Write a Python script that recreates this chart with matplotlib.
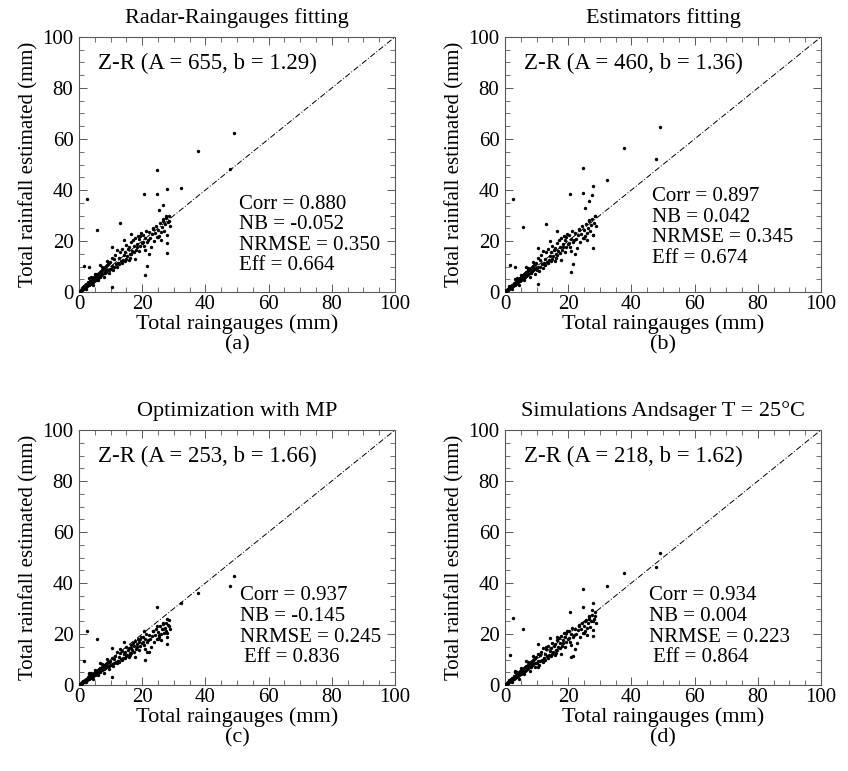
import matplotlib
matplotlib.use("Agg")
from matplotlib import pyplot as plt
from matplotlib.ticker import MultipleLocator

plt.rcParams['font.family'] = ['Liberation Serif', 'DejaVu Serif']
plt.rcParams['font.size'] = 15

# valori pluviometri (comuni ai quattro pannelli)
x_core = [0.2, 0.4, 0.5, 0.6, 0.8, 0.9, 1.0, 1.1, 1.3, 1.4,
          1.5, 1.7, 1.8, 1.9, 2.0, 2.2, 2.3, 2.4, 2.6, 2.7,
          2.8, 3.0, 3.1, 3.2, 3.4, 3.5, 3.6, 3.8, 3.9, 4.0,
          4.2, 4.3, 4.5, 4.6, 4.8, 4.9, 5.0, 5.2, 5.3, 5.5,
          5.6, 5.8, 5.9, 6.1, 6.2, 6.4, 6.5, 6.7, 6.8, 7.0,
          7.1, 7.3, 7.4, 7.6, 7.8, 7.9, 8.1, 8.2, 8.4, 8.6,
          8.7, 8.9, 9.0, 9.2, 9.4, 9.5, 9.7, 9.9, 1.2, 2.1,
          3.3, 4.4, 5.1, 6.0, 7.2, 8.0, 8.8, 9.6, 3.7, 6.6]
x_mid = [10.1, 10.3, 10.5, 10.8, 11.0, 11.2, 11.4, 11.7, 11.9, 12.1,
         12.3, 12.6, 12.8, 13.0, 13.2, 13.5, 13.7, 13.9, 14.1, 14.4,
         14.6, 14.8, 15.0, 15.3, 15.5, 15.7, 15.9, 16.2, 16.4, 16.6,
         16.8, 17.1, 17.3, 17.5, 17.8, 18.0, 18.2, 18.5, 18.7, 18.9,
         19.1, 19.4, 19.6, 19.8, 10.6, 12.4, 14.2, 16.0, 17.6, 19.3]
x_high = [20.1, 20.4, 20.7, 21.0, 21.3, 21.6, 21.9, 22.2, 22.5, 22.8,
          23.1, 23.4, 23.7, 24.0, 24.3, 24.6, 24.9, 25.2, 25.5, 25.8,
          26.1, 26.4, 26.7, 27.0, 27.3, 27.6, 27.9, 28.2, 28.5, 28.8,
          20.9, 22.0, 23.5, 25.0, 26.5]
x_out = [48.9, 37.8, 47.9, 24.6, 2.5, 20.5, 24.7, 27.8, 32.3, 26.5, 25.2, 27.6,
         13.0, 5.8, 27.8, 27.8, 20.8, 1.5, 3.2, 21.5, 10.4, 16.5, 28.5]
raingauges = x_core + x_mid + x_high + x_out

# (a) Radar-Raingauges fitting
ya = [0.5, 0.3, 0.9, 0.4, 1.2, 0.7, 1.5, 0.9, 1.8, 1.2,
      1.6, 2.3, 1.5, 2.6, 1.8, 3.0, 2.1, 2.9, 2.4, 3.5,
      2.6, 3.8, 2.8, 3.6, 3.1, 4.4, 3.3, 4.5, 3.5, 4.8,
      3.8, 5.2, 4.0, 5.6, 4.4, 5.8, 4.6, 6.3, 4.9, 6.5,
      5.2, 7.0, 5.5, 7.2, 5.8, 7.6, 6.0, 8.0, 6.4, 8.3,
      6.6, 8.8, 7.0, 9.0, 7.3, 9.4, 7.5, 9.8, 8.0, 10.2,
      8.2, 10.5, 8.5, 11.0, 8.8, 11.3, 9.2, 11.8, 2.0, 1.2,
      5.5, 2.8, 7.0, 4.8, 10.0, 6.0, 12.0, 7.5, 6.0, 10.5,
      9.0, 13.5, 10.2, 8.5, 12.8, 10.0, 14.6, 11.0, 9.8, 16.5,
      11.4, 13.2, 10.8, 15.8, 12.0, 11.5, 17.0, 12.6, 14.5, 12.2,
      15.8, 13.0, 18.5, 14.2, 16.8, 12.5, 17.5, 15.0, 19.5, 14.8,
      16.2, 20.5, 15.5, 18.0, 21.2, 16.6, 19.0, 17.8, 22.0, 16.0,
      20.8, 18.0, 23.0, 19.2, 17.5, 11.2, 20.2, 13.5, 12.8, 21.8,
      19.5, 22.5, 18.0, 21.0, 24.0, 19.8, 20.5, 23.5, 21.0, 17.5,
      22.8, 25.0, 20.0, 23.0, 26.0, 21.5, 24.5, 22.0, 27.0, 23.5,
      20.5, 25.5, 28.0, 24.0, 26.5, 29.0, 22.5, 27.5, 30.0, 26.0,
      16.5, 15.0, 24.8, 21.5, 28.5,
      62.4, 55.3, 48.4, 48.0, 36.3, 38.6, 38.3, 40.5, 40.8, 34.2, 32.0, 29.8,
      27.0, 24.3, 19.2, 15.4, 6.5, 10.2, 9.8, 10.2, 2.0, 22.7, 28.0]

# (b) Estimators fitting
yb = [0.4, 0.6, 0.7, 0.5, 1.1, 0.8, 1.3, 1.0, 1.6, 1.3,
      1.5, 2.1, 1.6, 2.4, 1.9, 2.8, 2.2, 2.7, 2.5, 3.3,
      2.7, 3.6, 2.9, 3.4, 3.2, 4.1, 3.4, 4.3, 3.6, 4.6,
      3.9, 4.9, 4.2, 5.3, 4.5, 5.6, 4.7, 6.0, 5.0, 6.3,
      5.3, 6.7, 5.6, 6.9, 5.9, 7.3, 6.1, 7.7, 6.5, 8.0,
      6.7, 8.5, 7.1, 8.7, 7.4, 9.1, 7.6, 9.5, 8.1, 9.9,
      8.3, 10.2, 8.6, 10.7, 8.9, 11.0, 9.3, 11.5, 2.4, 1.0,
      5.2, 2.6, 6.6, 4.6, 9.6, 5.8, 11.6, 7.2, 5.6, 10.0,
      8.8, 13.2, 10.0, 8.2, 12.5, 9.8, 14.4, 10.8, 9.6, 16.2,
      11.2, 13.0, 10.5, 15.5, 11.8, 11.2, 16.8, 12.4, 14.2, 12.0,
      15.5, 12.8, 18.2, 14.0, 16.5, 12.2, 17.2, 14.8, 19.2, 14.5,
      16.0, 20.2, 15.2, 17.8, 21.0, 16.4, 18.8, 17.5, 21.8, 15.8,
      20.5, 17.8, 22.8, 19.0, 17.2, 11.0, 20.0, 13.2, 12.5, 21.5,
      19.2, 22.2, 17.8, 20.8, 23.8, 19.5, 20.2, 23.2, 20.8, 17.2,
      22.5, 24.8, 19.8, 22.8, 25.8, 21.2, 24.2, 21.8, 26.8, 23.2,
      20.2, 25.2, 27.8, 23.8, 26.2, 28.8, 22.2, 27.2, 29.8, 25.8,
      16.2, 14.8, 24.5, 21.2, 28.2,
      64.7, 56.6, 52.0, 48.7, 36.3, 38.4, 38.9, 41.4, 43.8, 35.6, 33.0, 37.9,
      26.8, 25.5, 22.2, 17.4, 7.8, 10.5, 9.9, 11.0, 3.0, 24.1, 30.0]

# (c) Optimization with MP
yc = [0.3, 0.2, 0.6, 0.4, 0.9, 0.6, 1.1, 0.8, 1.4, 1.0,
      1.2, 1.7, 1.3, 2.0, 1.5, 2.3, 1.8, 2.2, 2.0, 2.7,
      2.2, 3.0, 2.4, 2.8, 2.7, 3.4, 2.8, 3.6, 3.0, 3.8,
      3.3, 4.1, 3.5, 4.4, 3.8, 4.6, 4.0, 5.0, 4.2, 5.2,
      4.5, 5.6, 4.7, 5.8, 5.0, 6.1, 5.2, 6.5, 5.5, 6.7,
      5.7, 7.1, 6.0, 7.3, 6.3, 7.6, 6.5, 8.0, 6.9, 8.3,
      7.1, 8.6, 7.3, 9.0, 7.6, 9.2, 7.9, 9.6, 1.6, 1.0,
      4.6, 2.2, 6.0, 3.8, 8.4, 4.9, 10.2, 6.1, 4.6, 8.6,
      7.8, 10.5, 8.2, 7.5, 10.2, 8.5, 11.5, 9.0, 8.6, 12.8,
      9.6, 11.0, 9.2, 12.5, 10.2, 9.8, 13.5, 10.6, 12.2, 10.4,
      13.0, 11.2, 14.8, 11.8, 13.6, 10.8, 14.5, 12.6, 15.8, 12.4,
      13.8, 16.5, 13.0, 15.2, 17.2, 14.2, 16.0, 15.0, 18.0, 13.8,
      17.0, 15.4, 18.8, 16.4, 14.6, 9.6, 16.8, 11.6, 11.0, 18.2,
      16.8, 19.0, 15.5, 18.0, 20.0, 16.8, 17.5, 19.8, 18.0, 15.0,
      19.2, 21.0, 17.0, 19.5, 22.0, 18.2, 20.8, 18.8, 23.0, 20.0,
      17.5, 21.8, 24.0, 20.5, 22.5, 24.5, 19.0, 23.5, 25.5, 22.0,
      14.0, 12.8, 21.0, 18.2, 24.2,
      42.9, 36.0, 38.7, 30.7, 21.3, 21.0, 23.0, 25.9, 32.0, 22.0, 19.5, 21.3,
      14.0, 18.0, 16.1, 20.5, 9.9, 9.5, 4.5, 13.0, 3.0, 14.5, 23.0]

# (d) Simulations Andsager T = 25°C
yd = [0.4, 0.3, 0.8, 0.5, 1.0, 0.7, 1.3, 0.9, 1.6, 1.2,
      1.4, 2.0, 1.5, 2.3, 1.7, 2.6, 2.0, 2.5, 2.3, 3.1,
      2.5, 3.4, 2.7, 3.2, 3.0, 3.9, 3.1, 4.1, 3.4, 4.3,
      3.7, 4.6, 3.9, 5.0, 4.2, 5.3, 4.4, 5.7, 4.7, 5.9,
      5.0, 6.4, 5.2, 6.6, 5.6, 6.9, 5.8, 7.3, 6.1, 7.6,
      6.4, 8.0, 6.7, 8.2, 7.0, 8.6, 7.2, 9.0, 7.7, 9.4,
      7.9, 9.7, 8.2, 10.1, 8.5, 10.4, 8.8, 10.9, 2.0, 1.1,
      5.0, 2.5, 6.5, 4.4, 9.2, 5.5, 11.2, 6.9, 5.2, 9.6,
      8.5, 12.0, 9.4, 8.0, 11.6, 9.3, 13.0, 10.0, 9.2, 14.6,
      10.5, 12.2, 9.9, 14.0, 11.2, 10.6, 15.2, 11.6, 13.4, 11.4,
      14.4, 12.2, 16.6, 13.0, 15.2, 11.8, 16.0, 13.8, 17.6, 13.6,
      15.0, 18.6, 14.4, 16.6, 19.4, 15.4, 17.6, 16.4, 20.2, 15.0,
      19.0, 16.8, 21.0, 18.0, 16.2, 10.4, 18.6, 12.6, 12.0, 20.2,
      18.5, 21.0, 17.0, 20.0, 22.5, 18.8, 19.5, 22.0, 20.0, 16.5,
      21.5, 23.5, 19.0, 21.8, 24.5, 20.5, 23.0, 21.0, 25.5, 22.2,
      19.5, 24.2, 26.5, 22.8, 25.0, 27.5, 21.5, 26.0, 28.5, 24.5,
      15.5, 14.2, 23.2, 20.2, 27.0,
      51.8, 43.9, 46.4, 37.5, 26.3, 28.5, 30.5, 32.0, 38.9, 26.0, 25.0, 29.5,
      15.0, 22.0, 19.1, 25.0, 11.1, 11.8, 5.5, 11.5, 6.9, 19.0, 27.0]

titles = ['Radar-Raingauges fitting', 'Estimators fitting',
          'Optimization with MP', 'Simulations Andsager T = 25°C']
zr_text = ['Z-R (A = 655, b = 1.29)', 'Z-R (A = 460, b = 1.36)',
           'Z-R (A = 253, b = 1.66)', 'Z-R (A = 218, b = 1.62)']
stats = [('0.880', '-0.052', '0.350', '0.664'),
         ('0.897', '0.042', '0.345', '0.674'),
         ('0.937', '-0.145', '0.245', '0.836'),
         ('0.934', '0.004', '0.223', '0.864')]
panel_labels = ['(a)', '(b)', '(c)', '(d)']
estimates = [ya, yb, yc, yd]

W, H = 848, 771
fig = plt.figure(figsize=(W / 100, H / 100), dpi=100)

# posizione assi in pixel: (sinistra, basso)
pos = [(79, 292), (505, 292), (79, 685), (505, 685)]
stat_pos = [(50.5, 34.5), (46.5, 37.5), (51, 35.0), (45.5, 35.0)]
aw, ah = 316, 255

for i in range(4):
    l, b = pos[i]
    ax = fig.add_axes([l / W, 1 - b / H, aw / W, ah / H])
    ax.plot([0, 100], [0, 100], color='black', lw=0.7, ls=(0, (6, 2, 1, 2)))
    ax.scatter(raingauges, estimates[i], s=6, color='black', linewidths=0, zorder=3)
    ax.set_xlim(0, 100)
    ax.set_ylim(0, 100)
    ax.xaxis.set_major_locator(MultipleLocator(20))
    ax.yaxis.set_major_locator(MultipleLocator(20))
    ax.xaxis.set_minor_locator(MultipleLocator(5))
    ax.yaxis.set_minor_locator(MultipleLocator(5))
    ax.tick_params(which='both', direction='in', top=True, right=True, color='0.35')
    ax.tick_params(axis='x', pad=2)
    ax.tick_params(axis='y', pad=4)
    ax.tick_params(which='major', length=6, width=0.7)
    ax.tick_params(which='minor', length=3.5, width=0.6)
    for s in ax.spines.values():
        s.set_color('0.35')
        s.set_linewidth(0.8)
    ax.set_title(titles[i], fontsize=16, pad=10)
    ax.set_xlabel('Total raingauges (mm)', fontsize=16, labelpad=0)
    ax.set_ylabel('Total rainfall estimated (mm)', labelpad=3)
    ax.text(6.0, 89.5, zr_text[i], va='center', ha='left', fontsize=16.5)
    sx, sy = stat_pos[i]
    c, nb, nr, ef = stats[i]
    lines = ['Corr = ' + c, 'NB = ' + nb, 'NRMSE = ' + nr, 'Eff = ' + ef]
    for k, t in enumerate(lines):
        dx = 1.3 if (k == 3 and i >= 2) else 0
        ax.text(sx + dx, sy - k * 8.1, t, va='center', ha='left')
    ax.text(0.5, -0.168, panel_labels[i], transform=ax.transAxes,
            ha='center', va='top', fontsize=16)

fig.savefig('out.png', dpi=100)
